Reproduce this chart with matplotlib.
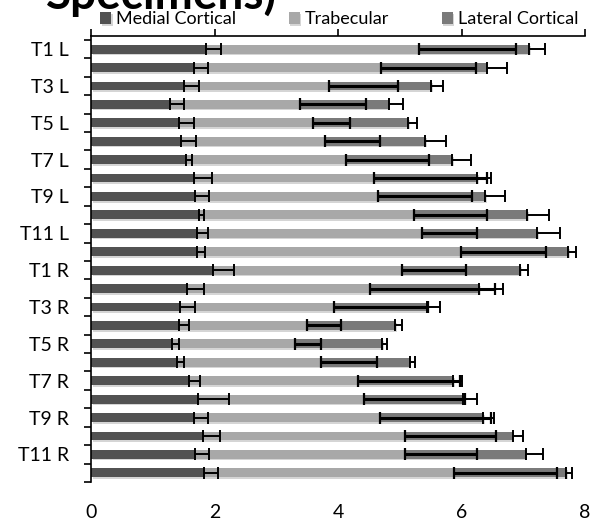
import numpy as np
import matplotlib
matplotlib.use("Agg")
import matplotlib.pyplot as plt
import matplotlib.patheffects as pe
from matplotlib.ticker import FixedLocator


# ************ #
# *** DATA *** #
# ************ #

LEVELS = ["T%d L" % i for i in range(1, 13)] + ["T%d R" % i for i in range(1, 13)]

medial = [1.87, 1.66, 1.50, 1.28, 1.43, 1.46, 1.54, 1.66, 1.68, 1.75, 1.71, 1.71,
          1.97, 1.56, 1.44, 1.43, 1.31, 1.39, 1.59, 1.74, 1.67, 1.81, 1.68, 1.83]
medialSd = [0.23, 0.23, 0.25, 0.23, 0.24, 0.24, 0.10, 0.30, 0.23, 0.08, 0.18, 0.14,
            0.35, 0.27, 0.24, 0.15, 0.11, 0.12, 0.18, 0.49, 0.22, 0.28, 0.23, 0.23]

trabecular = [3.44, 3.04, 2.35, 2.11, 2.17, 2.33, 2.59, 2.92, 2.96, 3.48, 3.65, 4.28,
              3.07, 2.96, 2.50, 2.07, 2.00, 2.33, 2.74, 2.68, 3.01, 3.28, 3.41, 4.05]
trabecularSd = [1.58, 1.54, 1.12, 1.06, 0.60, 0.89, 1.35, 1.84, 1.53, 1.19, 0.89, 1.38,
                1.04, 2.03, 1.51, 0.55, 0.41, 0.91, 1.65, 1.64, 1.80, 1.47, 1.16, 1.66]

lateral = [1.79, 1.71, 1.66, 1.43, 1.54, 1.62, 1.72, 1.67, 1.74, 1.83, 1.87, 1.74,
           1.91, 1.77, 1.50, 1.43, 1.40, 1.44, 1.54, 1.61, 1.67, 1.74, 1.95, 1.81]
lateralSd = [0.26, 0.33, 0.19, 0.24, 0.14, 0.34, 0.30, 0.22, 0.32, 0.35, 0.36, 0.12,
             0.12, 0.38, 0.21, 0.10, 0.08, 0.08, 0.14, 0.22, 0.18, 0.16, 0.28, 0.10]

XTICKS = [0, 2, 4, 6, 8]


# ************** #
# *** STYLE  *** #
# ************** #

plt.rcParams['font.family'] = ['Lato', 'DejaVu Sans']

C_MEDIAL = '#525252'
C_TRAB = '#a8a8a8'
C_LATERAL = '#7a7a7a'
BAR_H = 0.48
SHADOW = [pe.SimplePatchShadow(offset=(1.2, -1.2), shadow_rgbFace='#888888', alpha=0.35), pe.Normal()]


# ************ #
# *** PLOT *** #
# ************ #

def main():
    fig = plt.figure(figsize=(6.01, 5.22), dpi=100)
    ax = fig.add_axes([91 / 601, 1 - 482 / 522, (585 - 91) / 601, (482 - 35.5) / 522])

    y = np.arange(len(LEVELS))
    med = np.array(medial)
    tra = np.array(trabecular)
    lat = np.array(lateral)

    ax.barh(y, med, height=BAR_H, color=C_MEDIAL, label='Medial Cortical', path_effects=SHADOW, zorder=2)
    ax.barh(y, tra, left=med, height=BAR_H, color=C_TRAB, label='Trabecular', path_effects=SHADOW, zorder=2)
    ax.barh(y, lat, left=med + tra, height=BAR_H, color=C_LATERAL, label='Lateral Cortical',
            path_effects=SHADOW, zorder=2)

    zeros = np.zeros(len(LEVELS))
    ax.errorbar(med, y, xerr=[zeros, medialSd], fmt='none', ecolor='black',
                elinewidth=1.4, capsize=4, capthick=1.4, zorder=4)
    ax.errorbar(med + tra, y, xerr=[zeros, trabecularSd], fmt='none', ecolor='black',
                elinewidth=2.2, capsize=4, capthick=1.6, zorder=4)
    ax.errorbar(med + tra + lat, y, xerr=[zeros, lateralSd], fmt='none', ecolor='black',
                elinewidth=1.4, capsize=4, capthick=1.4, zorder=4)

    ax.set_xlim(0, 8)
    ax.set_ylim(len(LEVELS) - 0.5, -0.74)

    # x axis: line + ticks on top, labels at bottom
    ax.set_xticks(XTICKS)
    ax.set_xticklabels([str(t) for t in XTICKS], fontsize=14)
    ax.tick_params(axis='x', bottom=False, top=True, labelbottom=True, labeltop=False,
                   direction='out', length=5, width=1.2, pad=11)

    # y axis: labels every other level, ticks at the boundaries
    ax.set_yticks(y[::2])
    ax.set_yticklabels(LEVELS[::2], fontsize=14)
    ax.yaxis.set_minor_locator(FixedLocator(np.arange(-0.5, len(LEVELS), 1.0)))
    ax.tick_params(axis='y', which='major', length=0, pad=16)
    ax.tick_params(axis='y', which='minor', length=5, width=1.2, direction='out')

    for side in ['right', 'bottom']:
        ax.spines[side].set_visible(False)
    ax.spines['top'].set_linewidth(1.2)
    ax.spines['left'].set_linewidth(1.2)
    ax.spines['left'].set_bounds(len(LEVELS) - 0.5, -0.74)

    ax.legend(loc='center left', bbox_to_anchor=(9 / 494, 1 + 16 / 446.5), ncol=3, frameon=False,
              fontsize=13, handlelength=0.6, handleheight=0.6, handletextpad=0.3,
              columnspacing=2.9, borderaxespad=0, borderpad=0)

    # title cut by the top edge of the picture
    fig.text(46 / 601, 1 - 9 / 522, 'Specimens)', fontsize=33, fontweight='bold',
             ha='left', va='baseline')

    plt.savefig('out.png', dpi=100)
    plt.close(fig)


if __name__ == "__main__":
    main()
